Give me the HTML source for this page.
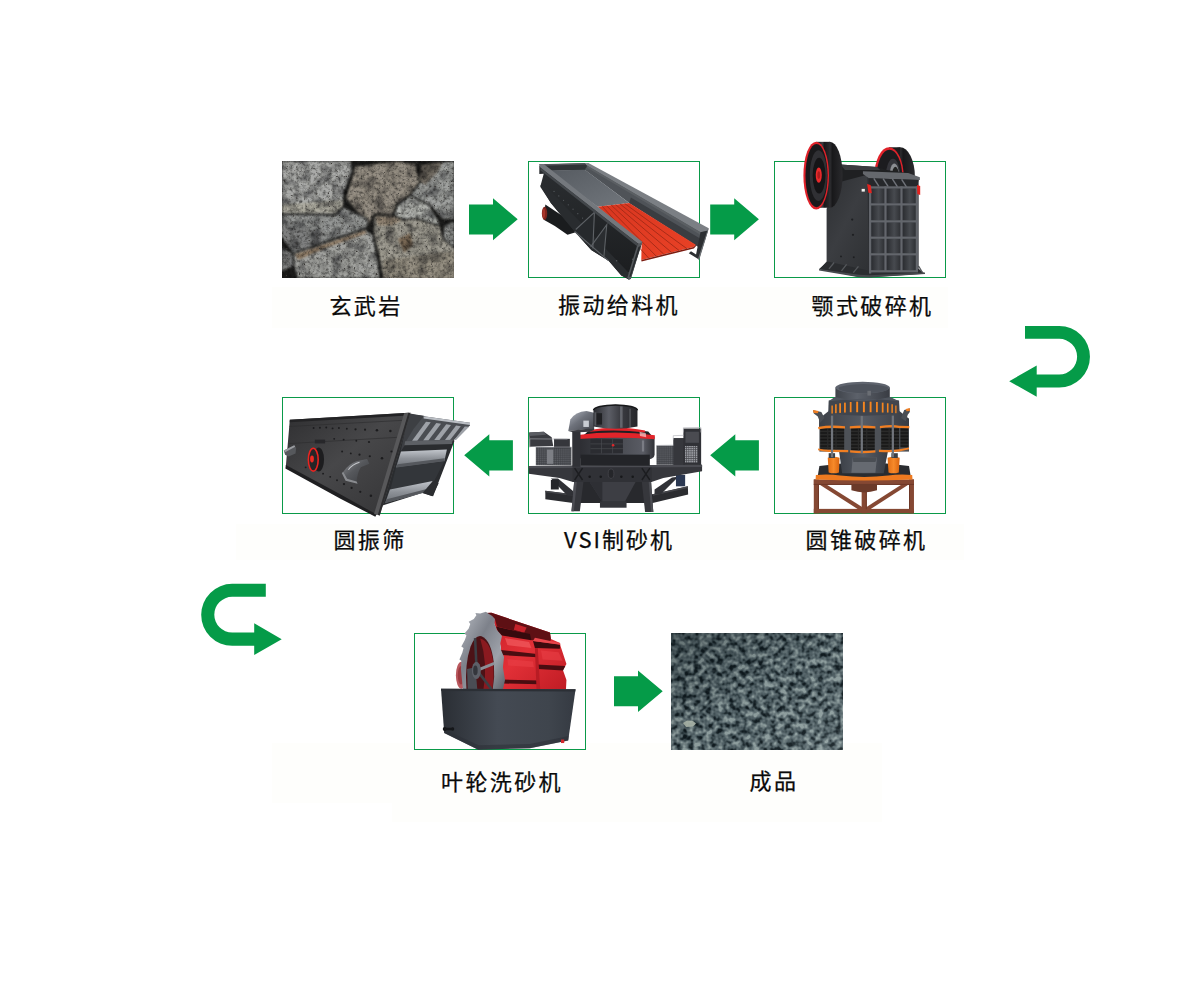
<!DOCTYPE html>
<html lang="zh-CN">
<head>
<meta charset="utf-8">
<title>玄武岩制砂工艺流程</title>
<style>
html,body{margin:0;padding:0;background:#fff;}
body{width:1200px;height:1000px;position:relative;overflow:hidden;font-family:"Liberation Sans","Noto Sans CJK SC",sans-serif;}
.box{position:absolute;width:170px;height:115px;border:1px solid #0a9a49;background:#fff;}
.lbl{position:absolute;font-size:22px;letter-spacing:2.4px;line-height:30px;color:#0a0a0a;-webkit-text-stroke:0.25px #0a0a0a;white-space:nowrap;transform:translateX(-50%);text-align:center;}
.haze{position:absolute;background:#fefefc;}
#art{position:absolute;left:0;top:0;width:1200px;height:1000px;}
</style>
</head>
<body>
<!-- faint off-white label bands -->
<div class="haze" style="left:272px;top:287px;width:676px;height:41px"></div>
<div class="haze" style="left:236px;top:524px;width:728px;height:36px"></div>
<div class="haze" style="left:272px;top:743px;width:120px;height:60px"></div>
<div class="haze" style="left:392px;top:743px;width:490px;height:79px"></div>

<!-- framed boxes -->
<div class="box" style="left:528px;top:161px"></div>
<div class="box" style="left:774px;top:161px"></div>
<div class="box" style="left:282px;top:397px"></div>
<div class="box" style="left:528px;top:397px"></div>
<div class="box" style="left:774px;top:397px"></div>
<div class="box" style="left:414px;top:633px"></div>

<svg id="art" viewBox="0 0 1200 1000">
<defs>
</defs>
<!--ARROWS-->
<g fill="#059b48">
<polygon points="469,204.5 493,204.5 493,198.3 517.7,219.3 493,240.2 493,234.5 469,234.5"/>
<polygon points="710.2,204.5 734.2,204.5 734.2,198.3 758.9,219.3 734.2,240.2 734.2,234.5 710.2,234.5"/>
<polygon points="512.9,440.3 489.3,440.3 489.3,434.3 464.2,455.3 489.3,476.4 489.3,470.4 512.9,470.4"/>
<polygon points="758.9,440.3 735.3,440.3 735.3,434.3 710.2,455.3 735.3,476.4 735.3,470.4 758.9,470.4"/>
<polygon points="614,676.3 638,676.3 638,670.6 662.7,691.3 638,712 638,706.3 614,706.3"/>
<!-- right U-turn -->
<path d="M1025,326 H1059.2 A30.75,30.75 0 0 1 1059.2,387.5 H1036.7 V396.8 L1009.2,381.2 L1036.7,365.4 V374.6 H1059.2 A17.9,17.9 0 0 0 1059.2,338.8 H1025 Z"/>
<!-- left U-turn -->
<path d="M265.8,583.8 H232.2 A31,31 0 0 0 232.2,645.8 H254.2 V655.1 L281.7,639.2 L254.2,623.3 V632.6 H232.2 A17.9,17.9 0 0 1 232.2,596.8 H265.8 Z"/>
</g>
<!--ROCKS-->
<g>
<defs>
<clipPath id="rkClip"><rect x="282" y="161" width="172" height="117"/></clipPath>
<filter id="rkTex" x="0" y="0" width="100%" height="100%" color-interpolation-filters="sRGB">
<feGaussianBlur in="SourceGraphic" stdDeviation="7" result="b"/>
<feTurbulence type="fractalNoise" baseFrequency="0.014" numOctaves="2" seed="4" result="n0"/>
<feColorMatrix in="n0" type="matrix" values="1.1 0 0 0 0.36  1.1 0 0 0 0.36  1.05 0 0 0 0.38  0 0 0 0 1" result="g0"/>
<feBlend in="b" in2="g0" mode="multiply" result="m0"/>
<feTurbulence type="fractalNoise" baseFrequency="0.05" numOctaves="3" seed="7" result="n"/>
<feColorMatrix in="n" type="matrix" values="0.7 0.7 0 0 0.22  0.7 0.7 0 0 0.22  0.7 0.7 0 0 0.22  0 0 0 0 1" result="g"/>
<feBlend in="m0" in2="g" mode="multiply" result="m"/>
<feTurbulence type="fractalNoise" baseFrequency="0.06" numOctaves="2" seed="21" result="n2"/>
<feColorMatrix in="n2" type="matrix" values="0 0 0 0 0.22  0 0 0 0 0.21  0 0 0 0 0.2  0 0 -7 0 2.2" result="pits"/>
<feGaussianBlur in="pits" stdDeviation="2" result="pb"/>
<feMerge><feMergeNode in="m"/><feMergeNode in="pb"/></feMerge>
</filter>
</defs>
<g clip-path="url(#rkClip)">
<g transform="translate(278,155) scale(0.15)" filter="url(#rkTex)">
<rect x="0" y="0" width="1220" height="860" fill="#1c1c1b"/>
<g stroke="#1a1a19" stroke-width="9" stroke-linejoin="round">
<polygon points="950,70 1180,36 1180,432 1090,426 1010,332 930,292 882,266 945,180" fill="#9ea09e"/>
<polygon points="950,70 1100,46 1060,120 980,200 945,180" fill="#6e685f" stroke="none"/>
<polygon points="510,76 800,36 920,60 946,180 882,262 792,330 762,402 640,396 602,470 462,302 452,282 500,120" fill="#958e83"/>
<polygon points="20,36 490,36 496,110 442,240 432,340 382,396 20,392" fill="#a9aaa8"/>
<polygon points="20,330 432,300 432,340 382,386 20,384" fill="#acaa9f" stroke="none"/>
<polygon points="20,394 382,400 432,346 592,420 602,470 582,490 300,582 100,652 20,540" fill="#949695"/>
<polygon points="772,400 796,330 882,270 1010,336 1062,420 1082,472 920,422 832,432" fill="#b2b4b0"/>
<polygon points="1106,470 1180,438 1180,622 1100,560" fill="#919391"/>
<polygon points="20,600 100,660 102,742 20,784" fill="#7c7d7d"/>
<polygon points="640,400 772,402 832,432 920,424 1082,474 1100,560 1180,622 1180,826 700,826 672,680 636,522" fill="#9e9b91"/>
<polygon points="800,560 880,520 900,600 840,650" fill="#786754" stroke="none"/>
<polygon points="650,410 772,412 822,436 760,470 664,470" fill="#928473" stroke="none"/>
<polygon points="100,656 582,492 632,530 662,680 682,826 130,826 106,742" fill="#a1a29f"/>
<polygon points="112,664 580,504 596,520 320,618 134,700" fill="#907c66" stroke="none"/>
<polygon points="700,700 1180,640 1180,826 700,826" fill="#948e81" stroke="none"/>
<polygon points="20,480 300,500 300,582 100,652 20,540" fill="#7e7f7f" stroke="none"/>
</g>
</g>
</g>
</g>
<!--FEEDER-->
<g transform="translate(520,150) scale(0.158333)">
<defs>
<linearGradient id="fdFloor" x1="0" y1="0" x2="1" y2="1"><stop offset="0" stop-color="#565b61"/><stop offset="1" stop-color="#71767c"/></linearGradient>
<linearGradient id="fdWall" x1="0" y1="0" x2="0" y2="1"><stop offset="0" stop-color="#2b2e31"/><stop offset="1" stop-color="#1b1d1f"/></linearGradient>
<linearGradient id="fdRed" x1="0" y1="0" x2="1" y2="1"><stop offset="0" stop-color="#d83620"/><stop offset="1" stop-color="#ea4226"/></linearGradient>
</defs>
<!-- far wall inner face -->
<polygon points="425,88 1188,503 1128,612 1108,600 690,335 408,124" fill="#4f5358"/>
<polygon points="690,335 1108,600 1128,612 1140,560 700,300" fill="#3a3d41"/>
<!-- far wall top rim -->
<polygon points="410,84 432,82 1192,494 1186,512 1140,520 425,100" fill="#7b7f84"/>
<polygon points="425,100 1140,520 1136,534 425,112" fill="#5b5f63"/>
<!-- far end leg -->
<polygon points="1140,520 1188,508 1130,692 1066,652 1080,640 1112,660" fill="#2c2f32"/>
<polygon points="1186,500 1192,494 1188,510 1132,694 1124,688" fill="#6d7175"/>
<!-- back wall -->
<polygon points="125,92 410,84 425,100 410,126 180,132" fill="#2e3134"/>
<polygon points="120,90 412,82 414,92 128,100" fill="#53575b"/>
<!-- floor -->
<polygon points="180,130 410,124 690,335 490,358" fill="url(#fdFloor)"/>
<!-- red grizzly -->
<polygon points="490,358 690,335 1110,598 1096,612 766,694 768,600" fill="url(#fdRed)"/>
<g stroke="#a52a17" stroke-width="6" fill="none">
<line x1="519" y1="355" x2="812" y2="682"/>
<line x1="547" y1="352" x2="860" y2="670"/>
<line x1="576" y1="348" x2="908" y2="658"/>
<line x1="604" y1="345" x2="957" y2="647"/>
<line x1="633" y1="342" x2="1005" y2="635"/>
<line x1="661" y1="338" x2="1054" y2="623"/>
</g>
<polygon points="766,694 1096,612 1110,598 1112,606 1098,622 768,704" fill="#7c1c10"/>
<!-- motor under -->
<polygon points="160,345 350,470 352,520 300,535 220,480 150,440" fill="#1a1c1e"/>
<ellipse cx="155" cy="400" rx="17" ry="42" fill="#7d241c"/>
<ellipse cx="150" cy="400" rx="9" ry="30" fill="#a8352a"/>
<!-- near wall outer face -->
<polygon points="122,96 766,594 700,812 688,818 640,792 560,700 450,632 345,515 195,335 128,232 150,150 122,152" fill="url(#fdWall)"/>
<polygon points="128,222 168,232 700,790 700,812 688,818 640,792 560,700 450,632 345,515 195,335" fill="#292c2f"/>
<!-- gussets -->
<polygon points="352,500 470,392 462,622" fill="#26292c"/>
<polygon points="446,612 548,470 532,672" fill="#2a2d30"/>
<g stroke="#5d6165" stroke-width="7" fill="none">
<polyline points="352,502 470,394 460,622"/>
<polyline points="446,612 548,472 530,672"/>
<line x1="345" y1="515" x2="560" y2="700"/>
</g>
<!-- near wall top rim -->
<polygon points="120,90 150,88 772,580 768,598 744,590 130,112" fill="#74787d"/>
<polygon points="130,112 744,590 738,606 128,128" fill="#43474b"/>
<!-- bolts -->
<g fill="#55595d">
<circle cx="215" cy="262" r="4"/><circle cx="245" cy="290" r="4"/><circle cx="275" cy="318" r="4"/><circle cx="305" cy="346" r="4"/><circle cx="335" cy="374" r="4"/><circle cx="365" cy="402" r="4"/><circle cx="395" cy="430" r="4"/>
<circle cx="610" cy="700" r="5"/><circle cx="690" cy="775" r="5"/><circle cx="712" cy="690" r="5"/>
</g>
<!-- front end plate -->
<polygon points="742,596 772,582 700,814 686,820 678,806" fill="#55595d"/>
<polygon points="748,612 764,604 700,800 690,800" fill="#2a2d30"/>
</g>
<!--JAW-->
<g transform="translate(765,130) scale(0.16)">
<defs>
<linearGradient id="jwRim" x1="0" y1="0" x2="1" y2="0"><stop offset="0" stop-color="#0e0e10"/><stop offset="0.45" stop-color="#3c3c40"/><stop offset="0.6" stop-color="#18181a"/><stop offset="1" stop-color="#2a2a2d"/></linearGradient>
<linearGradient id="jwSide" x1="0" y1="0" x2="1" y2="1"><stop offset="0" stop-color="#2b2d30"/><stop offset="0.5" stop-color="#3b3d41"/><stop offset="1" stop-color="#2e3033"/></linearGradient>
<linearGradient id="jwCell" x1="0" y1="0" x2="1" y2="0"><stop offset="0" stop-color="#2a2c30"/><stop offset="0.55" stop-color="#474a4f"/><stop offset="1" stop-color="#2f3135"/></linearGradient>
</defs>
<!-- right flywheel (behind) -->
<ellipse cx="845" cy="292" rx="92" ry="184" fill="url(#jwRim)"/>
<rect x="775" y="108" width="70" height="200" fill="#1b1b1d"/>
<ellipse cx="775" cy="292" rx="92" ry="184" fill="#e0222a"/>
<ellipse cx="778" cy="293" rx="80" ry="170" fill="#1c1c1f"/>
<ellipse cx="800" cy="290" rx="45" ry="110" fill="#34343a"/>
<ellipse cx="808" cy="290" rx="30" ry="80" fill="#8b8d92"/>
<ellipse cx="815" cy="290" rx="22" ry="60" fill="#222"/>
<!-- shaft housing -->
<polygon points="470,215 700,232 760,250 900,270 900,300 620,300 480,330" fill="#1f2022"/>
<polygon points="470,215 700,232 720,250 500,250" fill="#3a3b3f"/>
<!-- body side plate -->
<polygon points="385,492 480,322 622,284 652,290 652,908 590,908 340,872 385,822" fill="url(#jwSide)"/>
<rect x="604" y="368" width="20" height="17" fill="#f2f2ee"/>
<g fill="#1e1f22"><circle cx="545" cy="560" r="7"/><circle cx="550" cy="655" r="7"/><circle cx="555" cy="795" r="6"/><circle cx="475" cy="790" r="6"/></g>
<!-- base -->
<polygon points="338,868 392,822 652,880 962,868 1000,898 652,920 588,918" fill="#2a2c2f"/>
<polygon points="338,868 588,905 652,908 1000,890 1000,900 652,922 588,920 338,878" fill="#46494d"/>
<g stroke="#55585c" stroke-width="8"><line x1="400" y1="868" x2="432" y2="828"/><line x1="478" y1="880" x2="510" y2="840"/><line x1="552" y1="892" x2="584" y2="852"/><line x1="960" y1="850" x2="985" y2="892"/></g>
<!-- front face -->
<polygon points="640,290 960,300 960,885 650,905" fill="#2c2e32"/>
<!-- hopper top -->
<polygon points="612,258 895,268 968,296 968,312 650,302 612,275" fill="#65686d"/>
<polygon points="650,302 960,312 950,358 655,352" fill="#26282b"/>
<g stroke="#70737a" stroke-width="9"><line x1="680" y1="302" x2="712" y2="352"/><line x1="738" y1="304" x2="770" y2="354"/><line x1="796" y1="306" x2="828" y2="356"/><line x1="854" y1="308" x2="886" y2="358"/></g>
<!-- grid cells -->
<g fill="url(#jwCell)">
<rect x="664" y="366" width="82" height="92"/><rect x="760" y="366" width="86" height="92"/><rect x="860" y="366" width="82" height="92"/>
<rect x="664" y="472" width="82" height="92"/><rect x="760" y="472" width="86" height="92"/><rect x="860" y="472" width="82" height="92"/>
<rect x="664" y="578" width="82" height="88"/><rect x="760" y="578" width="86" height="88"/><rect x="860" y="578" width="82" height="88"/>
<rect x="664" y="680" width="82" height="90"/><rect x="760" y="680" width="86" height="90"/><rect x="860" y="680" width="82" height="90"/>
<rect x="664" y="784" width="82" height="92"/><rect x="760" y="784" width="86" height="92"/><rect x="860" y="784" width="82" height="92"/>
</g>
<g fill="#63666c">
<rect x="650" y="352" width="14" height="545"/><rect x="746" y="352" width="14" height="535"/><rect x="846" y="352" width="14" height="535"/><rect x="942" y="352" width="14" height="535"/>
<rect x="650" y="352" width="306" height="14"/><rect x="650" y="458" width="306" height="14"/><rect x="650" y="564" width="306" height="14"/><rect x="650" y="666" width="306" height="14"/><rect x="650" y="770" width="306" height="14"/><rect x="650" y="876" width="306" height="14"/>
</g>
<!-- red clamps -->
<polygon points="638,338 660,344 668,396 646,392" fill="#e4231f"/>
<polygon points="950,344 970,350 970,406 952,400" fill="#e4231f"/>
<!-- left flywheel -->
<ellipse cx="405" cy="280" rx="80" ry="206" fill="url(#jwRim)"/>
<rect x="320" y="74" width="85" height="412" fill="url(#jwRim)"/>
<ellipse cx="320" cy="285" rx="80" ry="212" fill="#e0222a"/>
<ellipse cx="322" cy="285" rx="69" ry="198" fill="#19191b"/>
<ellipse cx="334" cy="285" rx="54" ry="158" fill="#303034"/>
<ellipse cx="338" cy="285" rx="40" ry="112" fill="#151517"/>
<ellipse cx="336" cy="282" rx="19" ry="48" fill="#ea2a2c"/>
<ellipse cx="336" cy="282" rx="9" ry="24" fill="#b01c1e"/>
</g>
<!--CONE-->
<g transform="translate(765,370) scale(0.16)">
<defs>
<linearGradient id="cnCyl" x1="0" y1="0" x2="1" y2="0"><stop offset="0" stop-color="#3f434a"/><stop offset="0.4" stop-color="#5c616a"/><stop offset="1" stop-color="#393c43"/></linearGradient>
<linearGradient id="cnBody" x1="0" y1="0" x2="1" y2="0"><stop offset="0" stop-color="#3c4047"/><stop offset="0.5" stop-color="#565b64"/><stop offset="1" stop-color="#383c43"/></linearGradient>
<linearGradient id="cnOr" x1="0" y1="0" x2="1" y2="0"><stop offset="0" stop-color="#e06c14"/><stop offset="0.5" stop-color="#f78a2a"/><stop offset="1" stop-color="#d9640f"/></linearGradient>
<pattern id="cnCoil" width="10" height="9" patternUnits="userSpaceOnUse"><rect width="10" height="9" fill="#141414"/><rect y="6" width="10" height="2" fill="#4a4a48"/></pattern>
</defs>
<!-- stand -->
<g fill="#854833">
<rect x="305" y="684" width="626" height="34"/>
<rect x="305" y="684" width="32" height="212"/>
<rect x="900" y="684" width="31" height="212"/>
<rect x="305" y="868" width="626" height="28"/>
<rect x="604" y="716" width="32" height="180"/>
<polygon points="340,716 384,716 622,866 606,886"/>
<polygon points="898,716 854,716 620,866 634,886"/>
</g>
<g fill="#6d3726"><rect x="305" y="712" width="626" height="6"/><rect x="331" y="716" width="6" height="152"/><rect x="900" y="716" width="6" height="152"/><rect x="630" y="740" width="6" height="130"/></g>
<path d="M540,712 H700 V752 Q620,778 540,752 Z" fill="#6b3a2a"/>
<!-- base ring -->
<path d="M340,600 Q620,560 900,600 L912,672 H328 Z" fill="#2a2c30"/>
<path d="M318,656 Q400,648 470,660 Q620,678 770,660 Q840,648 920,656 L922,684 Q620,696 316,684 Z" fill="#ee7a20"/>
<!-- lower body -->
<polygon points="462,500 770,500 742,645 482,645" fill="url(#cnBody)"/>
<polygon points="548,545 700,545 690,642 540,642" fill="#666a71"/>
<polygon points="548,545 700,545 690,575 552,575" fill="#4a4e54"/>
<!-- orange cylinders -->
<path d="M392,548 Q428,536 466,548 L462,640 Q428,652 398,640 Z" fill="url(#cnOr)"/>
<path d="M766,548 Q802,536 842,548 L836,640 Q802,652 772,640 Z" fill="url(#cnOr)"/>
<rect x="398" y="520" width="40" height="30" fill="#3d4045"/><rect x="790" y="520" width="40" height="30" fill="#3d4045"/>
<!-- main frame upper -->
<polygon points="338,362 338,304 396,258 842,258 900,304 900,362" fill="url(#cnBody)"/>
<path d="M345,300 Q620,250 895,300 L900,360 H338 Z" fill="url(#cnBody)"/>
<rect x="340" y="350" width="560" height="160" fill="#4d5157"/>
<!-- spring groups -->
<g fill="url(#cnCoil)">
<rect x="345" y="362" width="150" height="135"/><rect x="538" y="362" width="148" height="140"/><rect x="726" y="362" width="112" height="135"/><rect x="846" y="362" width="50" height="122"/>
</g>
<g fill="#2a2a2a"><rect x="388" y="362" width="8" height="135"/><rect x="440" y="362" width="8" height="135"/><rect x="580" y="362" width="8" height="140"/><rect x="632" y="362" width="8" height="140"/><rect x="772" y="362" width="8" height="135"/></g>
<g fill="#f07e22">
<path d="M332,356 Q415,340 500,352 V366 Q415,356 334,370 Z"/>
<path d="M530,352 Q610,342 690,352 V366 Q610,358 530,366 Z"/>
<path d="M718,350 Q790,340 838,348 L902,350 V364 L838,362 Q790,354 718,364 Z"/>
<path d="M332,490 Q370,498 400,498 L520,500 V514 L400,512 Q360,510 332,502 Z"/>
<path d="M532,502 Q610,510 690,502 V516 Q610,524 532,516 Z"/>
<path d="M712,498 Q790,504 840,496 L900,484 V496 L840,510 Q790,518 712,512 Z"/>
</g>
<g fill="#70747b"><rect x="412" y="285" width="14" height="260"/><rect x="598" y="285" width="14" height="235"/><rect x="792" y="285" width="14" height="260"/></g>
<!-- side arms -->
<polygon points="300,252 352,262 372,300 345,330 330,290 305,272" fill="#4a4e54"/>
<polygon points="300,250 335,256 330,270 304,268" fill="#f07e22"/>
<polygon points="905,240 870,250 850,300 880,320 892,280 905,262" fill="#4a4e54"/>
<polygon points="905,238 880,244 884,258 905,256" fill="#f07e22"/>
<!-- adjustment ring -->
<path d="M398,190 Q620,160 838,190 L842,268 Q620,305 395,268 Z" fill="#41454d"/>
<g fill="#f5851f">
<rect x="415" y="222" width="9" height="50"/><rect x="438" y="214" width="10" height="56"/><rect x="464" y="208" width="11" height="60"/><rect x="494" y="204" width="11" height="62"/><rect x="530" y="200" width="11" height="64"/><rect x="570" y="198" width="12" height="66"/><rect x="612" y="198" width="12" height="66"/><rect x="654" y="198" width="12" height="66"/><rect x="694" y="200" width="11" height="64"/><rect x="730" y="204" width="11" height="62"/><rect x="762" y="208" width="10" height="58"/><rect x="790" y="214" width="9" height="54"/><rect x="814" y="222" width="8" height="48"/>
</g>
<!-- top hopper -->
<path d="M440,110 V175 Q610,215 780,175 V110 Z" fill="url(#cnCyl)"/>
<ellipse cx="610" cy="110" rx="170" ry="36" fill="#5f646e"/>
<ellipse cx="616" cy="116" rx="156" ry="28" fill="#4e535c"/>
<path d="M436,168 Q610,212 784,168 L838,196 Q610,164 398,196 Z" fill="#50555e"/>
<rect x="640" y="130" width="22" height="30" fill="#6a6e74"/>
</g>
<!--VSI-->
<g transform="translate(520,385) scale(0.158333)">
<defs>
<linearGradient id="vsDrum" x1="0" y1="0" x2="1" y2="0"><stop offset="0" stop-color="#2a2b30"/><stop offset="0.35" stop-color="#5c5e66"/><stop offset="0.6" stop-color="#3c3d43"/><stop offset="1" stop-color="#26272b"/></linearGradient>
<linearGradient id="vsLow" x1="0" y1="0" x2="1" y2="0"><stop offset="0" stop-color="#2c2d32"/><stop offset="0.55" stop-color="#4a4c53"/><stop offset="0.85" stop-color="#5a5c64"/><stop offset="1" stop-color="#303136"/></linearGradient>
<linearGradient id="vsDome" x1="0" y1="0" x2="1" y2="1"><stop offset="0" stop-color="#b4b8c2"/><stop offset="0.45" stop-color="#6e727b"/><stop offset="1" stop-color="#42444b"/></linearGradient>
<pattern id="vsMesh" width="12" height="12" patternUnits="userSpaceOnUse"><rect width="12" height="12" fill="#5b5d63"/><rect width="12" height="3" fill="#3b3c41"/><rect width="3" height="12" fill="#3b3c41"/></pattern>
<pattern id="vsMesh2" width="14" height="14" patternUnits="userSpaceOnUse"><rect width="14" height="14" fill="#9a9ca2"/><rect width="14" height="4" fill="#4b4c51"/><rect width="4" height="14" fill="#4b4c51"/></pattern>
</defs>
<!-- lower skid frame -->
<polygon points="160,668 335,690 335,745 160,722" fill="#2b2c30"/>
<polygon points="838,690 1060,640 1062,692 838,745" fill="#2b2c30"/>
<polygon points="160,668 335,690 335,700 160,678" fill="#44454a"/>
<polygon points="838,690 1060,640 1060,650 838,700" fill="#44454a"/>
<rect x="335" y="690" width="505" height="55" fill="#232428"/>
<polygon points="195,590 240,590 335,670 335,700 300,700" fill="#303136"/>
<polygon points="1000,580 960,585 850,660 850,690 890,690" fill="#303136"/>
<rect x="985" y="568" width="58" height="72" fill="#2b3852"/>
<rect x="195" y="600" width="50" height="60" fill="#25262a"/>
<!-- hopper under -->
<polygon points="392,608 778,608 792,745 378,745" fill="#28292d"/>
<polygon points="440,612 730,612 662,738 520,738" fill="#3d3e44"/>
<polygon points="440,612 520,738 520,612" fill="#2e2f34"/>
<rect x="505" y="735" width="168" height="40" fill="#34353a"/>
<!-- legs -->
<polygon points="343,600 402,600 378,798 325,798" fill="#36373c"/>
<polygon points="768,600 827,600 842,802 790,802" fill="#36373c"/>
<polygon points="343,600 360,600 340,798 325,798" fill="#4c4d53"/>
<polygon points="812,600 827,600 842,802 828,802" fill="#4c4d53"/>
<!-- platform beam -->
<polygon points="55,512 1150,504 1150,545 905,588 830,612 335,612 250,588 55,560" fill="#36373c"/>
<polygon points="55,512 1150,504 1150,518 55,526" fill="#4b4c52"/>
<rect x="332" y="520" width="500" height="92" fill="#303136"/>
<g fill="#17181a"><circle cx="440" cy="580" r="8"/><circle cx="510" cy="580" r="8"/><circle cx="640" cy="580" r="8"/><circle cx="712" cy="580" r="8"/></g>
<ellipse cx="575" cy="560" rx="18" ry="30" fill="#25262a" stroke="#4a4b50" stroke-width="4"/>
<g stroke="#1c1d20" stroke-width="9" fill="none"><path d="M345,525 L395,600 M395,525 L345,600"/><path d="M770,525 L820,600 M820,525 L770,600"/></g>
<!-- left platform equipment -->
<polygon points="58,300 150,295 200,330 210,385 60,390" fill="#3a3b40"/>
<polygon points="58,300 150,295 165,315 60,322" fill="#5a5c62"/>
<rect x="100" y="392" width="225" height="115" fill="url(#vsMesh)"/>
<rect x="170" y="408" width="40" height="90" fill="#7d7f85"/>
<rect x="215" y="340" width="100" height="60" fill="#35363b"/>
<g stroke="#a5a7ad" stroke-width="4" fill="none"><polyline points="62,395 62,340 300,342"/><line x1="100" y1="392" x2="325" y2="392"/></g>
<!-- right platform equipment -->
<rect x="862" y="382" width="180" height="122" fill="url(#vsMesh)"/>
<rect x="968" y="335" width="70" height="170" fill="#36373c"/>
<rect x="1032" y="275" width="112" height="230" fill="#303136"/>
<rect x="1042" y="385" width="80" height="105" fill="url(#vsMesh2)"/>
<rect x="1045" y="295" width="85" height="70" fill="#4a4b51"/>
<g stroke="#b0b2b8" stroke-width="4" fill="none"><polyline points="1032,300 1032,270 1142,268 1142,300"/><polyline points="968,345 968,320 1032,318"/><line x1="862" y1="382" x2="968" y2="380"/></g>
<!-- lower drum -->
<path d="M368,325 H850 V440 Q850,470 780,476 H430 Q368,470 368,440 Z" fill="url(#vsLow)"/>
<rect x="380" y="440" width="440" height="70" fill="#232428"/>
<rect x="445" y="342" width="205" height="90" fill="#2b2c31"/>
<g stroke="#4c4d53" stroke-width="4"><line x1="445" y1="372" x2="650" y2="372"/><line x1="445" y1="402" x2="650" y2="402"/><line x1="515" y1="342" x2="515" y2="432"/><line x1="585" y1="342" x2="585" y2="432"/></g>
<circle cx="588" cy="380" r="8" fill="#e0262a"/>
<rect x="770" y="350" width="14" height="70" fill="#7a7c84"/>
<!-- red rings -->
<path d="M430,292 Q610,262 810,294 L835,324 H395 Z" fill="#1f2023"/>
<path d="M366,316 Q610,284 852,318 L850,342 Q610,324 366,341 Z" fill="#e2242a"/>
<path d="M442,284 Q603,250 790,288 L790,300 Q603,278 442,296 Z" fill="#e2242a"/>
<path d="M755,296 L795,304 L797,330 L758,322 Z" fill="#f7c4c4" opacity="0.75"/>
<!-- dome motor cover left -->
<path d="M305,290 L318,218 Q350,170 420,165 L468,175 V275 Z" fill="url(#vsDome)"/>
<path d="M305,290 L468,272 V285 L440,296 L340,300 Z" fill="#3a3b40"/>
<rect x="400" y="225" width="35" height="40" fill="#c9ccd2"/>
<rect x="330" y="295" width="52" height="222" fill="#303136"/>
<!-- upper drum -->
<path d="M464,158 A139,34 0 0 1 742,158 V262 Q603,292 464,262 Z" fill="url(#vsDrum)"/>
<path d="M464,160 A139,34 0 0 1 742,160" fill="none" stroke="#17181a" stroke-width="9"/>
<rect x="632" y="135" width="16" height="135" fill="#85888f" opacity="0.55"/>
<rect x="690" y="150" width="10" height="115" fill="#85888f" opacity="0.4"/>
<rect x="478" y="178" width="40" height="72" fill="#1f2023"/>
<rect x="470" y="172" width="12" height="84" fill="#55575d"/>
</g>
<!--SCREEN-->
<g transform="translate(274,385) scale(0.158333)">
<defs>
<linearGradient id="scPlate" x1="0" y1="0" x2="1" y2="1"><stop offset="0" stop-color="#2f2f31"/><stop offset="0.45" stop-color="#474749"/><stop offset="1" stop-color="#333335"/></linearGradient>
<linearGradient id="scBeam" x1="0" y1="0" x2="0" y2="1"><stop offset="0" stop-color="#c2c6cc"/><stop offset="0.5" stop-color="#8d9197"/><stop offset="1" stop-color="#6c7076"/></linearGradient>
<linearGradient id="scElbow" x1="0" y1="0" x2="1" y2="1"><stop offset="0" stop-color="#8e9094"/><stop offset="0.45" stop-color="#56585c"/><stop offset="1" stop-color="#3a3c40"/></linearGradient>
</defs>
<!-- far side wall -->
<polygon points="820,180 950,196 1140,352 1005,702 935,682 690,760 640,800" fill="#2a2c2f"/>
<polygon points="850,178 950,196 880,300 800,420" fill="#3d3f43"/>
<!-- top deck frame with ribs -->
<polygon points="945,198 1238,238 1238,256 1128,356 828,366 880,280" fill="#4a4d52"/>
<g fill="#9ea2a8">
<polygon points="960,232 990,236 905,352 872,352"/>
<polygon points="1025,240 1055,244 975,350 942,350"/>
<polygon points="1088,248 1118,252 1045,348 1012,348"/>
<polygon points="1150,256 1180,260 1112,348 1080,348"/>
<polygon points="1205,262 1232,264 1150,348 1138,348"/>
</g>
<polygon points="945,198 1238,238 1238,252 945,212" fill="#b9bdc3"/>
<polygon points="828,356 1128,346 1124,372 824,380" fill="#5d6065"/>
<!-- deck 1 -->
<polygon points="802,420 1092,408 1076,482 770,522" fill="url(#scBeam)"/>
<polygon points="780,500 1078,462 1076,482 770,522" fill="#55585d"/>
<!-- between -->
<polygon points="770,522 1076,482 1010,610 735,660" fill="#33363a"/>
<!-- deck 2 -->
<polygon points="732,660 1003,606 988,668 702,746" fill="url(#scBeam)"/>
<polygon points="712,722 990,650 988,668 702,746" fill="#55585d"/>
<polygon points="940,680 1003,606 1040,620 1000,702" fill="#2b2d30"/>
<!-- main side plate -->
<polygon points="100,220 852,176 648,820 626,812 430,702 75,512" fill="url(#scPlate)"/>
<polygon points="100,220 852,176 848,192 99,236" fill="#232325"/>
<line x1="98" y1="262" x2="838" y2="222" stroke="#2c2c2e" stroke-width="4"/>
<line x1="92" y1="370" x2="790" y2="330" stroke="#2c2c2e" stroke-width="4"/>
<polygon points="75,506 430,696 626,806 648,816 640,832 420,718 72,528" fill="#1f1f21"/>
<!-- right edge trim -->
<polygon points="822,178 862,176 668,824 632,814" fill="#58585a"/>
<polygon points="848,177 862,176 668,824 656,820" fill="#2c2c2e"/>
<!-- bolts -->
<g fill="#1c1c1e">
<circle cx="250" cy="272" r="6"/><circle cx="290" cy="270" r="6"/><circle cx="330" cy="268" r="6"/><circle cx="370" cy="274" r="6"/><circle cx="410" cy="272" r="6"/><circle cx="460" cy="276" r="6"/><circle cx="515" cy="280" r="7"/><circle cx="575" cy="282" r="7"/><circle cx="650" cy="286" r="8"/><circle cx="735" cy="290" r="8"/>
<circle cx="380" cy="340" r="6"/><circle cx="440" cy="345" r="6"/><circle cx="520" cy="352" r="6"/><circle cx="600" cy="360" r="7"/>
<circle cx="430" cy="420" r="6"/><circle cx="485" cy="432" r="6"/><circle cx="540" cy="440" r="7"/><circle cx="605" cy="450" r="7"/><circle cx="682" cy="462" r="8"/><circle cx="742" cy="420" r="7"/>
<circle cx="355" cy="580" r="6"/><circle cx="398" cy="602" r="6"/><circle cx="442" cy="626" r="7"/><circle cx="490" cy="650" r="7"/><circle cx="545" cy="675" r="7"/><circle cx="612" cy="700" r="8"/><circle cx="200" cy="520" r="6"/><circle cx="310" cy="560" r="6"/>
</g>
<rect x="258" y="345" width="65" height="24" fill="#27272a"/>
<!-- left bracket -->
<polygon points="62,414 128,380 140,398 136,432 92,452 70,440" fill="#56585c"/>
<polygon points="62,414 128,380 134,390 70,424" fill="#9a9ca0"/>
<!-- exciter -->
<ellipse cx="282" cy="470" rx="34" ry="76" fill="#1d1d1f"/>
<ellipse cx="248" cy="472" rx="31" ry="72" fill="#252527" stroke="#ea2420" stroke-width="10"/>
<ellipse cx="240" cy="468" rx="12" ry="22" fill="#ee2a22"/>
<!-- elbow bracket -->
<path d="M438,548 Q470,500 520,482 L588,468 L602,498 L548,520 Q525,560 522,610 L462,592 Z" fill="url(#scElbow)"/>
<path d="M438,548 L462,592 L522,610 L528,624 L452,604 L428,556 Z" fill="#8a8c90"/>
<path d="M470,535 Q495,500 540,488" fill="none" stroke="#c4c6ca" stroke-width="7"/>
</g>
<!--WASHER-->
<g transform="translate(405,600) scale(0.16)">
<defs>
<linearGradient id="wsTankL" x1="0" y1="0" x2="1" y2="0"><stop offset="0" stop-color="#2a2e34"/><stop offset="0.42" stop-color="#444a53"/><stop offset="0.8" stop-color="#3f454d"/><stop offset="1" stop-color="#353a42"/></linearGradient>
<linearGradient id="wsTankF" x1="0" y1="0" x2="1" y2="1"><stop offset="0" stop-color="#474d56"/><stop offset="1" stop-color="#363b43"/></linearGradient>
<linearGradient id="wsPlate" x1="0" y1="0" x2="1" y2="1"><stop offset="0" stop-color="#b9bdc4"/><stop offset="0.4" stop-color="#7d818a"/><stop offset="0.7" stop-color="#9ea2aa"/><stop offset="1" stop-color="#5c6068"/></linearGradient>
<linearGradient id="wsRed" x1="0" y1="0" x2="1" y2="1"><stop offset="0" stop-color="#c81e26"/><stop offset="0.5" stop-color="#e23037"/><stop offset="1" stop-color="#c01c24"/></linearGradient>
</defs>
<!-- red bucket body -->
<polygon points="506,81 540,80 906,203 912,244 969,269 972,288 1009,400 987,438 1009,500 1006,560 590,560 600,300 560,150" fill="url(#wsRed)"/>
<!-- dark top face and recesses -->
<polygon points="506,81 540,80 906,203 912,244 906,262 830,256 787,250 740,205 575,166 562,119" fill="#5e1014"/>
<polygon points="690,150 760,172 745,205 680,186" fill="#c4222a"/>
<polygon points="569,166 781,213 790,252 606,222 580,196" fill="#360a0d"/>
<polygon points="800,256 969,278 968,304 812,300" fill="#3c0b0e"/>
<polygon points="812,236 969,268 969,280 800,256" fill="#e8464c"/>
<polygon points="600,313 825,338 826,358 606,344" fill="#4a0d11"/>
<polygon points="825,403 1002,413 988,440 831,431" fill="#4a0d11"/>
<polygon points="612,497 837,503 837,526 612,522" fill="#4a0d11"/>
<polygon points="812,300 830,300 845,560 822,560" fill="#b81c24"/>
<!-- highlights -->
<polygon points="625,238 775,262 790,300 640,282" fill="#f0585c" opacity="0.75"/>
<polygon points="640,370 800,384 805,420 645,410" fill="#ea4046" opacity="0.6"/>
<polygon points="850,315 960,326 985,380 860,372" fill="#ea4046" opacity="0.6"/>
<!-- pulley left -->
<ellipse cx="352" cy="470" rx="34" ry="84" fill="#b9585e"/>
<ellipse cx="350" cy="470" rx="20" ry="58" fill="#9c3a40"/>
<!-- side plate (serrated) -->
<path d="M362,560 L350,438 L352,380 L340,372 L358,330 L366,300 L352,290 L374,250 L384,222 L372,210 L398,178 L408,150 L398,136 L430,118 L446,96 L440,82 L470,84 L506,74 L520,84 L545,100 L562,119 L560,150 L575,188 L606,225 L596,270 L600,312 L619,356 L612,420 L625,500 L612,560 Z" fill="url(#wsPlate)"/>
<!-- inner opening -->
<path d="M384,560 Q372,400 410,290 Q440,215 478,226 Q540,250 556,400 Q562,480 548,560 Z" fill="#4c1216"/>
<path d="M470,240 Q540,260 552,400 Q558,480 546,560 H490 Q520,400 470,240 Z" fill="#8a1a20"/>
<!-- spokes & hub -->
<g stroke="#3c3f45" stroke-width="16" fill="none"><line x1="448" y1="440" x2="438" y2="238"/><line x1="450" y1="440" x2="540" y2="556"/></g>
<line x1="450" y1="440" x2="558" y2="396" stroke="#8b8f97" stroke-width="18"/>
<polygon points="388,432 440,420 452,560 392,560" fill="#4a4d54"/>
<ellipse cx="446" cy="440" rx="28" ry="54" fill="#5d6068"/>
<ellipse cx="440" cy="440" rx="14" ry="30" fill="#34363c"/>
<!-- tank -->
<polygon points="225,555 1066,558 1020,878 780,926 458,936 245,832" fill="url(#wsTankL)"/>
<polygon points="245,832 458,936 780,926 1020,878 1024,850 780,900 460,908 243,808" fill="#2c3036" opacity="0.55"/>
<polygon points="225,555 1066,558 1064,572 228,568" fill="#2b2f35"/>
<!-- valve -->
<rect x="240" y="798" width="66" height="16" rx="6" fill="#15171a"/><circle cx="248" cy="806" r="12" fill="#15171a"/><circle cx="298" cy="806" r="10" fill="#15171a"/>
<rect x="975" y="872" width="20" height="22" fill="#d42a2e"/>
</g>
<!--GRAVEL-->
<g>
<defs>
<filter id="gvTex" x="0" y="0" width="100%" height="100%" color-interpolation-filters="sRGB">
<feTurbulence type="fractalNoise" baseFrequency="0.17" numOctaves="2" seed="11" result="n"/>
<feColorMatrix in="n" type="matrix" values="2.0 0 0 0 -0.46  2.0 0 0 0 -0.46  2.0 0 0 0 -0.46  0 0 0 0 1" result="g"/>
<feComponentTransfer in="g" result="c">
<feFuncR type="table" tableValues="0.06 0.14 0.27 0.36 0.46 0.58"/>
<feFuncG type="table" tableValues="0.10 0.19 0.33 0.42 0.52 0.64"/>
<feFuncB type="table" tableValues="0.12 0.21 0.35 0.44 0.53 0.64"/>
</feComponentTransfer>
<feComposite in="c" in2="SourceGraphic" operator="in"/>
</filter>
<linearGradient id="gvShade" x1="0" y1="0" x2="1" y2="1"><stop offset="0" stop-color="#0c1518" stop-opacity="0.35"/><stop offset="0.5" stop-color="#0c1518" stop-opacity="0.05"/><stop offset="1" stop-color="#c8d4d4" stop-opacity="0.12"/></linearGradient>
</defs>
<rect x="671" y="633" width="172" height="117" fill="#55656a" filter="url(#gvTex)"/>
<rect x="671" y="633" width="172" height="117" fill="url(#gvShade)"/>
<polygon points="683,723 687,720.5 693,721 696,723.5 693,726.5 686,727" fill="#b4beb0" opacity="0.8"/>
</g>
</svg>

<!-- labels -->
<div class="lbl" style="left:366px;top:292px">玄武岩</div>
<div class="lbl" style="left:619px;top:291px">振动给料机</div>
<div class="lbl" style="left:872.5px;top:291.5px">颚式破碎机</div>
<div class="lbl" style="left:370px;top:526px">圆振筛</div>
<div class="lbl" style="left:619px;top:523px;letter-spacing:2px;font-family:'Noto Sans CJK SC',sans-serif">VSI制砂机</div>
<div class="lbl" style="left:866.5px;top:526px">圆锥破碎机</div>
<div class="lbl" style="left:502px;top:768px">叶轮洗砂机</div>
<div class="lbl" style="left:774px;top:766.5px">成品</div>
</body>
</html>
